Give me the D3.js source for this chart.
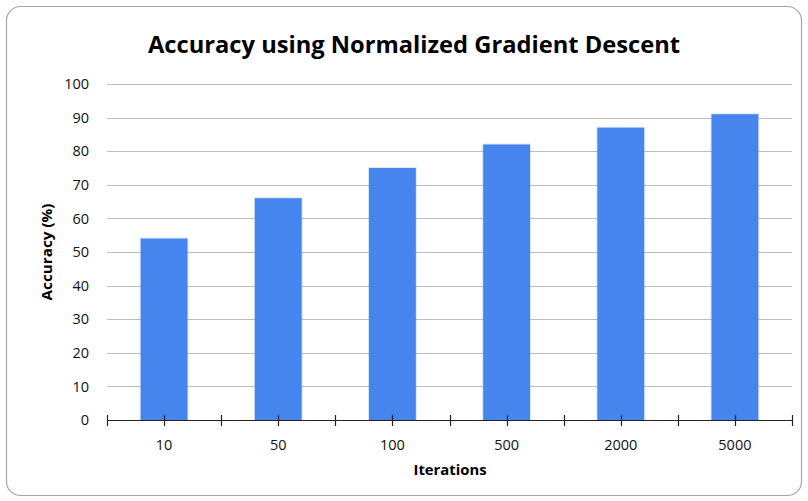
<!DOCTYPE html>
<html>
<head>
<meta charset="utf-8">
<script src="https://cdn.jsdelivr.net/npm/d3@7"></script>
<style>
  body { margin: 0; background: #fff; }
  text { font-family: 'Open Sans', sans-serif; }
</style>
</head>
<body>
<div id="chart"></div>
<script>
const categories = ['10', '50', '100', '500', '2000', '5000'];
const accuracy = [54, 66, 75, 82, 87, 91];
const yTicks = [0, 10, 20, 30, 40, 50, 60, 70, 80, 90, 100];

const svgWidth = 808,
      svgHeight = 501;

const margin = { top: 84, right: 16, bottom: 81, left: 107 };
const width = svgWidth - margin.left - margin.right,
      height = svgHeight - margin.top - margin.bottom;

const svg = d3.select('#chart')
              .append('svg')
              .attr('width', svgWidth)
              .attr('height', svgHeight);

// frame
svg.append('rect')
   .attr('x', 6.5).attr('y', 6.5)
   .attr('width', 795).attr('height', 489)
   .attr('rx', 14).attr('ry', 14)
   .attr('fill', '#fff')
   .attr('stroke', '#a6a6a6')
   .attr('stroke-width', 1.2);

svg.append('text')
   .attr('x', 414).attr('y', 53)
   .attr('text-anchor', 'middle')
   .attr('font-size', 24)
   .attr('font-weight', 'bold')
   .attr('textLength', 532)
   .attr('lengthAdjust', 'spacingAndGlyphs')
   .text('Accuracy using Normalized Gradient Descent');

const g = svg.append('g')
             .attr('transform', `translate(${margin.left},${margin.top})`);

const x = d3.scaleBand()
            .domain(categories)
            .range([0, width])
            .paddingInner(0.59)
            .paddingOuter(0.295);
const band = width / categories.length;

const y = d3.scaleLinear()
            .domain([0, 100])
            .range([height, 0]);

// gridlines
g.append('g')
 .selectAll('line')
 .data(yTicks.filter(d => d > 0))
 .enter()
 .append('line')
 .attr('x1', 0).attr('x2', width)
 .attr('y1', d => Math.round(y(d)) + 0.5)
 .attr('y2', d => Math.round(y(d)) + 0.5)
 .attr('stroke', '#bdbdbd')
 .attr('stroke-width', 1);

// y labels
const yAxis = d3.axisLeft(y)
                .tickValues(yTicks)
                .tickSize(0)
                .tickPadding(18);
g.append('g')
 .call(yAxis)
 .call(s => s.select('.domain').remove())
 .selectAll('text')
 .attr('font-size', 14.5)
 .attr('fill', '#111')
 .style('font-family', "'Open Sans', sans-serif");

// bar shadow + bars
const bars = g.append('g');
bars.selectAll('rect.shadow')
    .data(accuracy)
    .enter()
    .append('rect')
    .attr('class', 'shadow')
    .attr('x', (d, i) => x(categories[i]) - 1)
    .attr('y', d => y(d) - 1)
    .attr('width', x.bandwidth() + 2)
    .attr('height', d => height - y(d) + 1)
    .attr('fill', '#4a86e8')
    .attr('opacity', 0.2);
bars.selectAll('rect.bar')
    .data(accuracy)
    .enter()
    .append('rect')
    .attr('class', 'bar')
    .attr('x', (d, i) => x(categories[i]))
    .attr('y', d => y(d))
    .attr('width', x.bandwidth())
    .attr('height', d => height - y(d))
    .attr('fill', '#4684ee');

// x axis line and ticks
const xg = g.append('g').attr('transform', `translate(0,${height})`);
xg.append('line')
  .attr('x1', 0).attr('x2', width)
  .attr('y1', 0.5).attr('y2', 0.5)
  .attr('stroke', '#222')
  .attr('stroke-width', 1.2);

const tickPos = d3.range(categories.length * 2 + 1).map(i => i * band / 2);
xg.selectAll('line.tick')
  .data(tickPos)
  .enter()
  .append('line')
  .attr('class', 'tick')
  .attr('x1', d => Math.round(d) + 0.5)
  .attr('x2', d => Math.round(d) + 0.5)
  .attr('y1', -5).attr('y2', 6)
  .attr('stroke', '#222')
  .attr('stroke-width', 1.2);

xg.selectAll('text')
  .data(categories)
  .enter()
  .append('text')
  .attr('x', d => x(d) + x.bandwidth() / 2)
  .attr('y', 30)
  .attr('text-anchor', 'middle')
  .attr('font-size', 14.5)
  .attr('fill', '#111')
  .text(d => d);

// axis titles
svg.append('text')
   .attr('x', 450).attr('y', 475)
   .attr('text-anchor', 'middle')
   .attr('font-size', 15)
   .attr('font-weight', 'bold')
   .attr('textLength', 73)
   .attr('lengthAdjust', 'spacingAndGlyphs')
   .text('Iterations');

svg.append('text')
   .attr('transform', 'translate(52,252) rotate(-90)')
   .attr('text-anchor', 'middle')
   .attr('font-size', 15)
   .attr('font-weight', 'bold')
   .attr('textLength', 97)
   .attr('lengthAdjust', 'spacingAndGlyphs')
   .text('Accuracy (%)');
</script>
</body>
</html>
